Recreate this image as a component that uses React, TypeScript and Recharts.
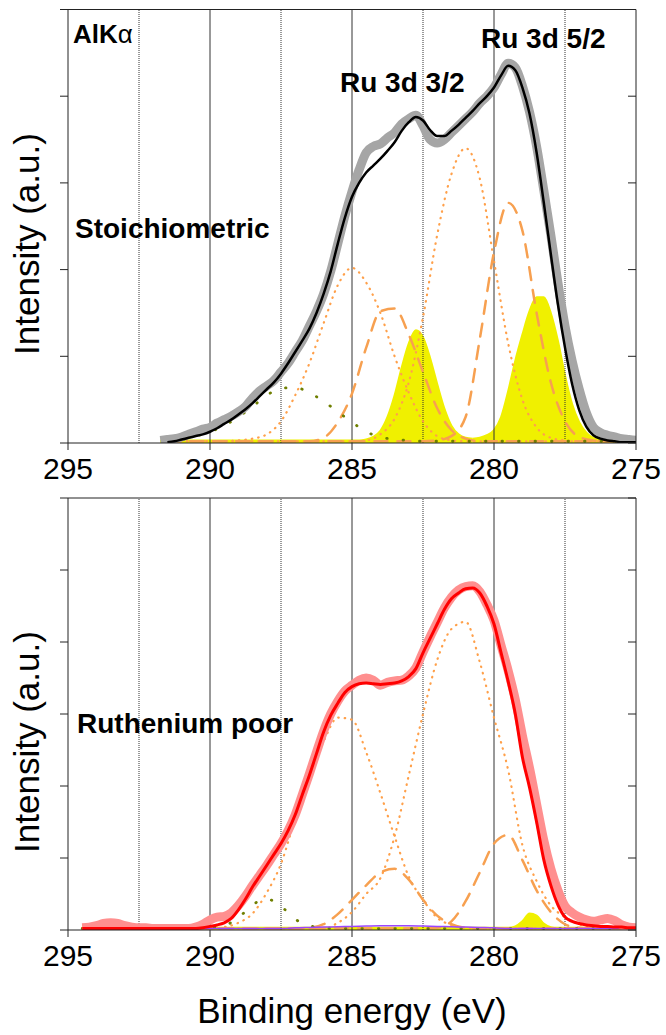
import { Area, ComposedChart, Line, ReferenceLine, XAxis, YAxis } from "recharts";

const font = "'Liberation Sans', Arial, Helvetica, sans-serif";

const energyTicks = [295, 290, 285, 280, 275];
const solidGrid = [290, 285, 280];
const dottedGrid = [292.5, 287.5, 282.5, 277.5];
const stoichTicks = [0, 1, 2, 3, 4, 5];
const poorTicks = [0, 1, 2, 3, 4, 5, 6];

// ---- Stoichiometric panel, 0.25 eV grid
const stoichEnergy = [
  291.75, 291.5, 291.25, 291, 290.75, 290.5, 290.25, 290, 289.75, 289.5, 289.25, 289,
  288.75, 288.5, 288.25, 288, 287.75, 287.5, 287.25, 287, 286.75, 286.5, 286.25, 286,
  285.75, 285.5, 285.25, 285, 284.75, 284.5, 284.25, 284, 283.75, 283.5, 283.25, 283,
  282.75, 282.5, 282.25, 282, 281.75, 281.5, 281.25, 281, 280.75, 280.5, 280.25, 280,
  279.75, 279.5, 279.25, 279, 278.75, 278.5, 278.25, 278, 277.75, 277.5, 277.25, 277,
  276.75, 276.5, 276.25, 276, 275.75, 275.5, 275.25, 275,
];
const stoichMeasured = [
  0.03, 0.04, 0.05, 0.07, 0.1, 0.13, 0.16, 0.18, 0.23, 0.27, 0.31, 0.36,
  0.42, 0.52, 0.6, 0.66, 0.72, 0.82, 0.92, 1.05, 1.18, 1.35, 1.52, 1.72,
  1.98, 2.3, 2.62, 2.9, 3.15, 3.35, 3.42, 3.45, 3.52, 3.58, 3.68, 3.74,
  3.78, 3.66, 3.5, 3.46, 3.5, 3.58, 3.66, 3.74, 3.82, 3.92, 4.0, 4.1,
  4.25, 4.38, 4.33, 4.12, 3.82, 3.42, 2.92, 2.4, 1.85, 1.35, 0.95, 0.62,
  0.35, 0.18, 0.12, 0.09, 0.07, 0.05, 0.04, 0.03,
];
const stoichFit = [
  null, 0.01, 0.02, 0.04, 0.06, 0.08, 0.1, 0.13, 0.17, 0.22, 0.27, 0.33,
  0.39, 0.46, 0.54, 0.62, 0.7, 0.8, 0.92, 1.05, 1.18, 1.32, 1.5, 1.72,
  1.98, 2.3, 2.6, 2.84, 3.0, 3.12, 3.2, 3.28, 3.37, 3.47, 3.6, 3.7,
  3.76, 3.72, 3.61, 3.54, 3.54, 3.6, 3.67, 3.75, 3.83, 3.92, 4.0, 4.1,
  4.24, 4.35, 4.3, 4.1, 3.8, 3.35, 2.78, 2.18, 1.6, 1.1, 0.68, 0.38,
  0.19, 0.09, 0.05, 0.03, 0.02, 0.01, 0.01, 0.01,
];
const stoichRu = [
  0.03, 0.03, 0.03, 0.03, 0.03, 0.03, 0.03, 0.03, 0.03, 0.03, 0.03, 0.03,
  0.03, 0.03, 0.03, 0.03, 0.03, 0.03, 0.03, 0.03, 0.03, 0.03, 0.03, 0.03,
  0.03, 0.03, 0.03, 0.03, 0.03, 0.04, 0.07, 0.14, 0.3, 0.55, 0.87, 1.15,
  1.3, 1.22, 0.98, 0.68, 0.4, 0.2, 0.1, 0.06, 0.05, 0.06, 0.09, 0.15,
  0.3, 0.6, 0.95, 1.25, 1.52, 1.68, 1.68, 1.5, 1.18, 0.78, 0.45, 0.24,
  0.12, 0.06, 0.04, 0.03, 0.03, 0.03, 0.03, 0.03,
];

// ---- Stoichiometric components, 0.5 eV grid
const stoichCompEnergy = [
  291.5, 291, 290.5, 290, 289.5, 289, 288.5, 288, 287.5, 287, 286.5, 286,
  285.5, 285, 284.5, 284, 283.5, 283, 282.5, 282, 281.5, 281, 280.5, 280,
  279.5, 279, 278.5, 278, 277.5, 277, 276.5, 276, 275.5, 275,
];
const stoichC1 = [
  0.02, 0.02, 0.02, 0.02, 0.02, 0.03, 0.05, 0.1, 0.25, 0.55, 0.92, 1.38,
  1.82, 2.02, 1.85, 1.5, 1.0, 0.58, 0.25, 0.08, 0.03, 0.02, 0.02, 0.02,
  0.02, 0.02, 0.02, 0.02, 0.02, 0.02, 0.02, 0.02, 0.02, 0.02,
];
const stoichC2 = [
  0.02, 0.02, 0.02, 0.02, 0.02, 0.02, 0.02, 0.02, 0.02, 0.02, 0.02, 0.06,
  0.24, 0.57, 1.1, 1.52, 1.55, 1.25, 0.82, 0.4, 0.15, 0.05, 0.02, 0.02,
  0.02, 0.02, 0.02, 0.02, 0.02, 0.02, 0.02, 0.02, 0.02, 0.02,
];
const stoichC3 = [
  0.02, 0.02, 0.02, 0.02, 0.02, 0.02, 0.02, 0.02, 0.02, 0.02, 0.02, 0.02,
  0.02, 0.02, 0.03, 0.1, 0.28, 0.7, 1.45, 2.4, 3.1, 3.4, 3.05, 2.1,
  1.15, 0.5, 0.18, 0.06, 0.03, 0.02, 0.02, 0.02, 0.02, 0.02,
];
const stoichC4 = [
  0.02, 0.02, 0.02, 0.02, 0.02, 0.02, 0.02, 0.02, 0.02, 0.02, 0.02, 0.02,
  0.02, 0.02, 0.02, 0.02, 0.02, 0.02, 0.02, 0.03, 0.08, 0.3, 1.2, 2.2,
  2.77, 2.45, 1.5, 0.7, 0.25, 0.07, 0.03, 0.02, 0.02, 0.02,
];
const stoichBg = [
  0.02, 0.04, 0.08, 0.13, 0.2, 0.3, 0.42, 0.55, 0.63, 0.64, 0.58, 0.48,
  0.36, 0.24, 0.13, 0.07, 0.04, 0.03, 0.02, 0.02, 0.02, 0.02, 0.02, 0.02,
  0.02, 0.02, 0.02, 0.02, 0.02, 0.02, 0.02, 0.02, 0.02, 0.02,
];

// ---- Ruthenium poor panel, 0.25 eV grid
const poorEnergy = [
  294.5, 294.25, 294,
  293.75, 293.5, 293.25, 293, 292.75, 292.5, 292.25, 292, 291.75, 291.5, 291.25, 291,
  290.75, 290.5, 290.25, 290, 289.75, 289.5, 289.25, 289, 288.75, 288.5, 288.25, 288,
  287.75, 287.5, 287.25, 287, 286.75, 286.5, 286.25, 286, 285.75, 285.5, 285.25, 285,
  284.75, 284.5, 284.25, 284, 283.75, 283.5, 283.25, 283, 282.75, 282.5, 282.25, 282,
  281.75, 281.5, 281.25, 281, 280.75, 280.5, 280.25, 280, 279.75, 279.5, 279.25, 279,
  278.75, 278.5, 278.25, 278, 277.75, 277.5, 277.25, 277, 276.75, 276.5, 276.25, 276,
  275.75, 275.5, 275.25, 275,
];
const poorMeasured = [
  0.03, 0.04, 0.06,
  0.09, 0.1, 0.09, 0.06, 0.04, 0.03, 0.03, 0.02, 0.02, 0.02, 0.02, 0.02,
  0.02, 0.04, 0.08, 0.14, 0.18, 0.19, 0.24, 0.34, 0.47, 0.62, 0.76, 0.9,
  1.05, 1.2, 1.38, 1.6, 1.88, 2.17, 2.47, 2.76, 3.0, 3.18, 3.32, 3.4,
  3.47, 3.5, 3.47, 3.4, 3.44, 3.46, 3.47, 3.53, 3.64, 3.86, 4.07, 4.27,
  4.47, 4.62, 4.72, 4.77, 4.78, 4.7, 4.52, 4.3, 3.95, 3.6, 3.2, 2.7,
  2.25, 1.75, 1.25, 0.85, 0.55, 0.33, 0.24, 0.18, 0.14, 0.12, 0.14, 0.16,
  0.13, 0.07, 0.04, 0.03,
];
const poorFit = [
  0.02, 0.02, 0.02,
  0.02, 0.02, 0.02, 0.02, 0.02, 0.02, 0.02, 0.02, 0.02, 0.02, 0.02, 0.02,
  0.02, 0.02, 0.03, 0.05, 0.07, 0.1, 0.16, 0.28, 0.43, 0.6, 0.75, 0.9,
  1.05, 1.2, 1.38, 1.6, 1.88, 2.15, 2.45, 2.75, 2.98, 3.15, 3.3, 3.38,
  3.42, 3.43, 3.42, 3.41, 3.42, 3.43, 3.46, 3.52, 3.63, 3.85, 4.05, 4.25,
  4.45, 4.6, 4.68, 4.74, 4.75, 4.68, 4.5, 4.25, 3.85, 3.45, 3.0, 2.4,
  1.98, 1.5, 0.98, 0.62, 0.35, 0.18, 0.12, 0.09, 0.07, 0.06, 0.05, 0.05,
  0.04, 0.04, 0.03, 0.03,
];
const poorRu = [
  0.03, 0.03, 0.03,
  0.03, 0.03, 0.03, 0.03, 0.03, 0.03, 0.03, 0.03, 0.03, 0.03, 0.03, 0.03,
  0.03, 0.03, 0.03, 0.03, 0.03, 0.03, 0.03, 0.03, 0.03, 0.03, 0.03, 0.03,
  0.03, 0.03, 0.03, 0.03, 0.03, 0.03, 0.03, 0.03, 0.03, 0.03, 0.03, 0.03,
  0.03, 0.03, 0.03, 0.03, 0.03, 0.03, 0.03, 0.03, 0.03, 0.03, 0.03, 0.03,
  0.03, 0.03, 0.03, 0.03, 0.03, 0.03, 0.03, 0.03, 0.03, 0.03, 0.05, 0.12,
  0.23, 0.2, 0.09, 0.04, 0.03, 0.03, 0.03, 0.03, 0.03, 0.03, 0.03, 0.03,
  0.03, 0.03, 0.03, 0.03,
];

// ---- Ruthenium poor components, 0.5 eV grid
const poorCompEnergy = [
  294.5, 294, 293.5, 293, 292.5, 292, 291.5, 291, 290.5, 290,
  289.5, 289, 288.5, 288, 287.5, 287, 286.5, 286, 285.5, 285,
  284.5, 284, 283.5, 283, 282.5, 282, 281.5, 281, 280.5, 280,
  279.5, 279, 278.5, 278, 277.5, 277, 276.5, 276, 275.5, 275,
];
const poorC1 = [
  0.02, 0.02, 0.02, 0.02, 0.02, 0.02, 0.02, 0.02, 0.02, 0.02,
  0.04, 0.1, 0.23, 0.52, 0.92, 1.55, 2.18, 2.62, 2.95, 2.92,
  2.47, 1.9, 1.3, 0.74, 0.42, 0.17, 0.07, 0.03, 0.02, 0.02,
  0.02, 0.02, 0.02, 0.02, 0.02, 0.02, 0.02, 0.02, 0.02, 0.02,
];
const poorC2 = [
  0.02, 0.02, 0.02, 0.02, 0.02, 0.02, 0.02, 0.02, 0.02, 0.02,
  0.02, 0.02, 0.02, 0.02, 0.02, 0.02, 0.03, 0.08, 0.22, 0.42,
  0.62, 0.8, 0.85, 0.7, 0.42, 0.2, 0.08, 0.03, 0.02, 0.02,
  0.02, 0.02, 0.02, 0.02, 0.02, 0.02, 0.02, 0.02, 0.02, 0.02,
];
const poorC3 = [
  0.02, 0.02, 0.02, 0.02, 0.02, 0.02, 0.02, 0.02, 0.02, 0.02,
  0.02, 0.02, 0.02, 0.02, 0.02, 0.02, 0.02, 0.02, 0.1, 0.25,
  0.5, 0.72, 1.3, 2.15, 3.0, 3.75, 4.18, 4.28, 3.72, 2.95,
  2.22, 1.18, 0.68, 0.34, 0.18, 0.08, 0.03, 0.02, 0.02, 0.02,
];
const poorC4 = [
  0.02, 0.02, 0.02, 0.02, 0.02, 0.02, 0.02, 0.02, 0.02, 0.02,
  0.02, 0.02, 0.02, 0.02, 0.02, 0.02, 0.02, 0.02, 0.02, 0.02,
  0.02, 0.02, 0.02, 0.02, 0.02, 0.03, 0.12, 0.4, 0.8, 1.2,
  1.32, 0.97, 0.55, 0.25, 0.08, 0.03, 0.02, 0.02, 0.02, 0.02,
];
const poorBg = [
  0.02, 0.02, 0.02, 0.02, 0.02, 0.02, 0.02, 0.02, 0.02, 0.03,
  0.06, 0.17, 0.35, 0.43, 0.33, 0.15, 0.06, 0.03, 0.02, 0.02,
  0.02, 0.02, 0.02, 0.02, 0.02, 0.02, 0.02, 0.02, 0.02, 0.02,
  0.02, 0.02, 0.02, 0.02, 0.02, 0.02, 0.02, 0.02, 0.02, 0.02,
];
const poorOxide = [
  0.02, 0.02, 0.02, 0.02, 0.02, 0.02, 0.02, 0.02, 0.02, 0.02,
  0.02, 0.02, 0.02, 0.02, 0.02, 0.03, 0.035, 0.04, 0.045, 0.05,
  0.055, 0.06, 0.06, 0.06, 0.055, 0.05, 0.045, 0.04, 0.035, 0.03,
  0.02, 0.02, 0.02, 0.02, 0.02, 0.02, 0.02, 0.02, 0.02, 0.02,
];

type Pt = { x: number; y: number | null };
const pts = (xs: number[], ys: (number | null)[]): Pt[] => xs.map((x, i) => ({ x, y: ys[i] }));

const AXIS = "#222";
const ORANGE = "#ffa04a";
const DASHED = "#f7a050";
const OLIVE = "#6f7f00";
const YELLOW = "#f0f000";

const noLabel = () => <g />;

function curve(key: string, data: Pt[], stroke: string, width: number, dash?: string) {
  return (
    <Line
      key={key}
      yAxisId="l"
      data={data}
      dataKey="y"
      type="monotone"
      stroke={stroke}
      strokeWidth={width}
      strokeDasharray={dash}
      strokeLinecap={dash ? "round" : "butt"}
      dot={false}
      activeDot={false}
      legendType="none"
      isAnimationActive={false}
    />
  );
}

function fill(key: string, data: Pt[]) {
  return (
    <Area
      key={key}
      yAxisId="l"
      data={data}
      dataKey="y"
      type="monotone"
      fill={YELLOW}
      fillOpacity={1}
      stroke={YELLOW}
      strokeWidth={2}
      legendType="none"
      isAnimationActive={false}
    />
  );
}

function axes(max: number, ticks: number[]) {
  return [
    <XAxis
      key="x"
      dataKey="x"
      type="number"
      domain={[275, 295]}
      reversed
      allowDataOverflow
      ticks={energyTicks}
      interval={0}
      height={50}
      tickSize={7}
      tickMargin={8}
      stroke={AXIS}
      tick={{ fill: "#000", fontSize: 30, fontFamily: font }}
    />,
    <YAxis key="yl" yAxisId="l" type="number" domain={[0, max]} ticks={ticks} interval={0} allowDataOverflow width={68} tickSize={8} tick={noLabel} stroke={AXIS} />,
    <YAxis key="yr" yAxisId="r" orientation="right" mirror type="number" domain={[0, max]} ticks={ticks} interval={0} allowDataOverflow width={30} tickSize={8} tick={noLabel} stroke={AXIS} />,
  ];
}

function grid(max: number) {
  return [
    ...dottedGrid.map((x) => <ReferenceLine key={`d${x}`} x={x} yAxisId="l" stroke="#333" strokeDasharray="1 1" />),
    ...solidGrid.map((x) => <ReferenceLine key={`s${x}`} x={x} yAxisId="l" stroke="#333" />),
    <ReferenceLine key="top" y={max} yAxisId="l" stroke={AXIS} />,
  ];
}

const stoichRuPts = pts(stoichEnergy, stoichRu);

export default function App() {
  return (
    <div style={{ position: "absolute", left: 0, top: 0, width: 666, height: 1035, background: "#fff", fontFamily: font }}>
      <div style={{ position: "absolute", left: 0, top: 0 }}>
        <ComposedChart width={666} height={493} margin={{ top: 9.5, right: 30, bottom: 0, left: 0 }}>
          {axes(5, stoichTicks)}
          {grid(5)}
          {curve("c1", pts(stoichCompEnergy, stoichC1), ORANGE, 2.2, "0.5 6")}
          {curve("c2", pts(stoichCompEnergy, stoichC2), DASHED, 2.5, "13 10")}
          {fill("ru32", stoichRuPts.slice(0, 45))}
          {curve("c3", pts(stoichCompEnergy, stoichC3), ORANGE, 2.2, "0.5 6")}
          {curve("c4", pts(stoichCompEnergy, stoichC4), DASHED, 2.5, "13 10")}
          {fill("ru52", stoichRuPts.slice(44))}
          {curve("bg", pts(stoichCompEnergy, stoichBg), OLIVE, 2.8, "0.5 16")}
          {curve("meas", pts(stoichEnergy, stoichMeasured), "#a6a6a6", 9)}
          {curve("fit", pts(stoichEnergy, stoichFit), "#000", 2.5)}
        </ComposedChart>
      </div>
      <div style={{ position: "absolute", left: 0, top: 493 }}>
        <ComposedChart width={666} height={542} margin={{ top: 5, right: 30, bottom: 55, left: 0 }}>
          {axes(6, poorTicks)}
          {grid(6)}
          {fill("ru", pts(poorEnergy, poorRu))}
          {curve("c1", pts(poorCompEnergy, poorC1), ORANGE, 2.2, "0.5 6")}
          {curve("c2", pts(poorCompEnergy, poorC2), DASHED, 2.5, "13 10")}
          {curve("c3", pts(poorCompEnergy, poorC3), ORANGE, 2.2, "0.5 6")}
          {curve("c4", pts(poorCompEnergy, poorC4), DASHED, 2.5, "13 10")}
          {curve("bg", pts(poorCompEnergy, poorBg), OLIVE, 2.8, "0.5 16")}
          {curve("ox", pts(poorCompEnergy, poorOxide), "#9b45ff", 1.5)}
          {curve("meas", pts(poorEnergy, poorMeasured), "#ff8f8f", 9)}
          {curve("fit", pts(poorEnergy, poorFit), "#ff0000", 3)}
        </ComposedChart>
      </div>
      <svg width={666} height={1035} style={{ position: "absolute", left: 0, top: 0, pointerEvents: "none" }} fontFamily={font}>
        <text x={73} y={43} fontSize={26} fontWeight="bold" fill="#000">
          AlK<tspan fontWeight="normal">α</tspan>
        </text>
        <text x={75} y={238} fontSize={28} fontWeight="bold" fill="#000">Stoichiometric</text>
        <text x={340} y={92} fontSize={28} fontWeight="bold" fill="#000">Ru 3d 3/2</text>
        <text x={481} y={48} fontSize={28} fontWeight="bold" fill="#000">Ru 3d 5/2</text>
        <text x={77} y={733} fontSize={28} fontWeight="bold" fill="#000">Ruthenium poor</text>
        <text x={39} y={244} fontSize={35} textAnchor="middle" transform="rotate(-90 39 244)" fill="#000">Intensity (a.u.)</text>
        <text x={39} y={742} fontSize={35} textAnchor="middle" transform="rotate(-90 39 742)" fill="#000">Intensity (a.u.)</text>
        <text x={352} y={1023} fontSize={35} textAnchor="middle" fill="#000">Binding energy (eV)</text>
      </svg>
    </div>
  );
}
